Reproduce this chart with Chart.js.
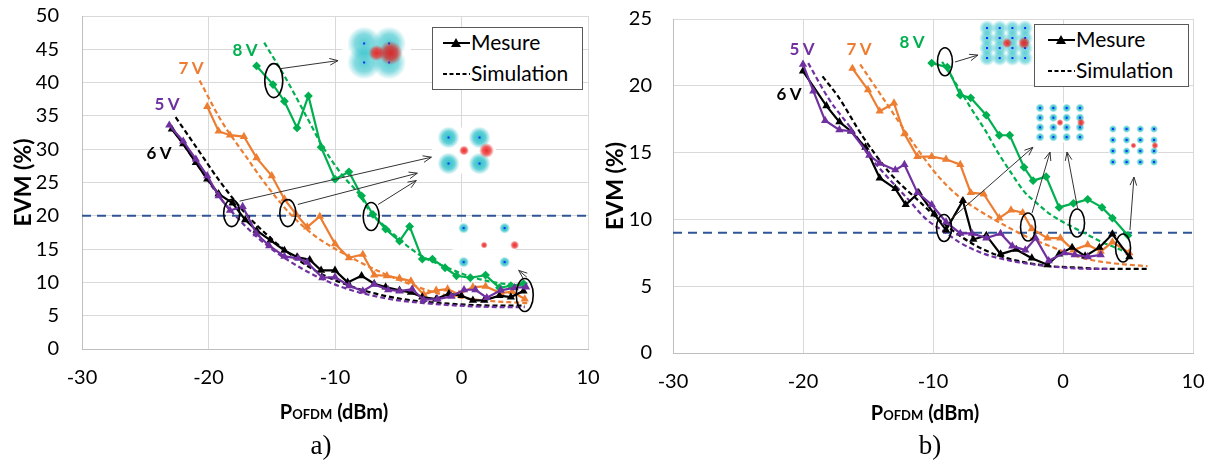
<!DOCTYPE html>
<html><head><meta charset="utf-8">
<script src="https://cdn.jsdelivr.net/npm/chart.js@4.4.1/dist/chart.umd.min.js"></script>
<style>
html,body{margin:0;padding:0;background:#fff;}
body{width:1210px;height:461px;position:relative;overflow:hidden;font-family:Lato,'DejaVu Sans',sans-serif;}
.wrap{position:absolute;top:0;height:422px;}
#wa{left:0;width:600px;} #wb{left:600px;width:610px;}
.lbl{position:absolute;font-weight:bold;font-size:17px;line-height:20px;white-space:nowrap;transform:translate(-50%,-50%);}
.xt{position:absolute;font-weight:bold;font-size:20px;line-height:24px;white-space:nowrap;transform:translate(-50%,-50%);color:#000}
.xt small{font-size:13px;}
.cap{position:absolute;font-family:'Liberation Serif','Times New Roman',serif;font-size:27px;line-height:30px;transform:translate(-50%,-50%);}
.leg{position:absolute;border:1px solid #595959;background:#fff;box-sizing:border-box;}
.leg span{position:absolute;font-size:21px;line-height:25px;white-space:nowrap;}
.leg svg{position:absolute;left:0;top:0;}
</style></head>
<body>
<div class="wrap" id="wa"><canvas id="ca"></canvas></div>
<div class="wrap" id="wb"><canvas id="cb"></canvas></div>

<div class="lbl" style="left:245px;top:50px;color:#00b050">8 V</div>
<div class="lbl" style="left:191px;top:68px;color:#ed7d31">7 V</div>
<div class="lbl" style="left:167px;top:104px;color:#7030a0">5 V</div>
<div class="lbl" style="left:159px;top:153px;color:#000">6 V</div>
<div class="lbl" style="left:802px;top:49px;color:#7030a0">5 V</div>
<div class="lbl" style="left:859px;top:49px;color:#ed7d31">7 V</div>
<div class="lbl" style="left:912px;top:42px;color:#00b050">8 V</div>
<div class="lbl" style="left:789px;top:94px;color:#000">6 V</div>

<div class="leg" style="left:432px;top:27px;width:151px;height:63px;">
 <svg width="150" height="62"><line x1="10" y1="15" x2="37" y2="15" stroke="#000" stroke-width="2"/><polygon points="23,10 28,19 18,19" fill="#000"/><line x1="10" y1="46" x2="37" y2="46" stroke="#000" stroke-width="2" stroke-dasharray="4,2.5"/></svg>
 <span style="left:38px;top:1px;">Mesure</span><span style="left:38px;top:32px;">Simulation</span>
</div>
<div class="leg" style="left:1034px;top:24px;width:155px;height:63px;">
 <svg width="154" height="62"><line x1="13" y1="15" x2="40" y2="15" stroke="#000" stroke-width="2"/><polygon points="26,10 31,19 21,19" fill="#000"/><line x1="13" y1="46" x2="40" y2="46" stroke="#000" stroke-width="2" stroke-dasharray="4,2.5"/></svg>
 <span style="left:41px;top:1px;">Mesure</span><span style="left:41px;top:32px;">Simulation</span>
</div>

<div class="xt" style="left:334px;top:412px;">P<small>OFDM</small> (dBm)</div>
<div class="xt" style="left:925px;top:413px;">P<small>OFDM</small> (dBm)</div>
<div class="cap" style="left:321px;top:445px;">a)</div>
<div class="cap" style="left:930px;top:445px;">b)</div>

<script>
// ---------- data: chart a ----------
const X_TICKS = [-30, -20, -10, 0, 10];
const A_M5_X = [-23.1,-22,-21,-20.1,-19.2,-18.3,-17.3,-16.2,-15.2,-14,-12.9,-12.2,-11,-10,-8.9,-7.8,-6.9,-5.8,-4.9,-3.9,-3,-1.9,-0.8,0.2,1.1,2,3.1,4.2,5.1];
const A_M5_Y = [33.6,31.2,28.5,26,23,20.8,21.4,17.3,15.5,13.9,13.6,13,10.7,10.8,9.5,8.7,9.7,8.9,8.7,9.0,7.4,7.5,7.9,8.9,8.9,7.7,8.8,9.2,9.3];
const A_M6_X = [-22.9,-22,-21,-20.1,-19.2,-18.1,-17.1,-16.2,-15.1,-14,-13,-12,-11.1,-10,-9,-7.9,-6.9,-6,-4.9,-4,-3.1,-2,-1,0,0.9,1.8,3,3.9,4.9];
const A_M6_Y = [33,30.8,28,25.5,23.3,21.9,19.4,17.8,16.3,14.8,13.8,13.4,11.8,11.8,10,11,9.8,9.3,8.8,8.5,7.8,7.5,8.3,8,7.3,7.3,8,7.8,8.7];
const A_M7_X = [-20.1,-19.2,-18.3,-17.2,-16.2,-15,-14,-13.1,-12.2,-11.2,-10,-8.9,-7.8,-6.9,-5.9,-4.9,-4,-3,-2,-1.1,-0.2,0.9,1.9,3.1,4,5];
const A_M7_Y = [36.4,32.7,32.1,31.9,28.7,26,22.5,20.3,18.3,19.9,15.8,13.7,14.2,11.1,11,10.6,10.2,8.2,8.8,9,8.2,9.3,9.4,8.4,8.6,7.5];
const A_M8_X = [-16.2,-14.9,-14,-13,-12.1,-11.1,-10,-8.9,-7.9,-7,-6,-4.9,-4.1,-3.1,-2.3,-1.3,-0.4,0.7,1.9,3,3.9,4.9];
const A_M8_Y = [42.5,39.7,37.2,33.2,38,30.3,25.5,26.6,23,20.2,18,16.2,18.4,13.5,13.5,12.2,11,10.7,11.1,9.2,9.5,9.8];
const A_S5_X = [-23,-21,-19,-17,-15,-13,-11,-9,-7,-5,-3,-1,1,3,5];
const A_S5_Y = [33.5,28,22.5,18.3,15,12.5,10.5,9,8,7.3,6.9,6.6,6.4,6.3,6.3];
const A_S6_X = [-22.6,-21,-19,-17,-15,-13,-11,-9,-7,-5,-3,-1,1,3,5];
const A_S6_Y = [34.8,30.4,24.9,20.2,16.5,13.5,11.2,9.6,8.4,7.6,7.1,6.8,6.6,6.5,6.5];
const A_S7_X = [-20.7,-19,-17,-15.5,-13.5,-12,-11,-8.5,-6,-4,-2,0,2,4,5.2];
const A_S7_Y = [40.3,34.3,28.8,24.8,20.2,17.6,16.2,13.5,11.2,9.7,8.4,7.7,7.25,7.0,6.9];
const A_S8_X = [-15.6,-14,-12,-11.1,-9.5,-8,-7.2,-5.8,-4.5,-3.2,-1.1,0.5,2.6,4.9];
const A_S8_Y = [46,41,34,30.8,26.3,23,20.5,18,15.8,14,12.2,11,10,9.5];
const A_LIMIT = 20;

// ---------- data: chart b ----------
const B_M5_X = [-20,-19.2,-18.3,-17.2,-16.3,-14.9,-14.1,-12.9,-12.2,-11.2,-10.1,-9,-7.9,-7,-5.9,-4.8,-3.9,-2.9,-2.1,-1.1,0.1,0.9,1.9,2.9];
const B_M5_Y = [21.6,19.6,17.4,16.7,16.6,14.8,14.2,13.7,14.1,12,11.1,9.8,8.95,8.95,8.6,8.95,8,7.7,8.6,6.9,7.5,7.35,7.2,7.35];
const B_M6_X = [-20,-18.2,-17.2,-16.3,-15.2,-14.1,-12.9,-12.1,-11.1,-9.9,-9,-7.7,-6.9,-5.9,-4.8,-3.6,-2.4,-1.2,-0.3,0.7,1.7,2.8,3.8,5.1];
const B_M6_Y = [21.1,18.5,17.3,16.6,15.4,13.1,12.3,11.1,12,10.4,9.2,11.4,8.5,8.8,7.4,7.75,7.1,6.6,7.4,7.9,7.25,7.9,8.9,7.2];
const B_M7_X = [-16.2,-15,-14.1,-13,-12.2,-11.2,-10.1,-9,-7.9,-7.1,-6.1,-4.9,-4,-3.1,-2.4,-1.2,-0.2,0.8,1.9,2.9,3.8,5.1];
const B_M7_Y = [21.3,19.7,18.1,18.7,16.4,14.7,14.7,14.5,14.1,12,11.9,10.1,10.7,10.5,9.3,8.6,8.6,7.7,8.1,7.6,8.3,7.5];
const B_M8_X = [-10.1,-8.9,-7.9,-7.1,-5.9,-4.9,-4.1,-3,-2.3,-1.3,-0.3,0.8,1.9,3,3.8,5];
const B_M8_Y = [21.7,21.4,19.3,19.1,17.8,16.3,16.3,13.9,12.9,13.2,10.9,11.2,11.5,10.9,10.1,8.8];
const B_S5_X = [-19.6,-18,-16,-15.1,-14,-12,-10.5,-9,-8,-6,-4,-2,0,2,3.5];
const B_S5_Y = [21.7,19,16.4,15,13.7,11.6,10,9,8.3,7.4,6.9,6.6,6.4,6.3,6.3];
const B_S6_X = [-18.5,-17.3,-15.4,-13.3,-11,-9.2,-7,-5,-3,-1,1,3,5,6.5];
const B_S6_Y = [20.7,19.2,16.2,13.45,11.3,9.7,8.2,7.3,6.8,6.5,6.4,6.3,6.3,6.3];
const B_S7_X = [-15.6,-14,-12,-11,-10,-9,-8,-7,-5.3,-3,-1,0.3,2,4,6.5];
const B_S7_Y = [21.6,19.3,16.4,15,13.7,12.6,11.7,11.0,10,8.8,8,7.5,7,6.7,6.5];
const B_S8_X = [-9.3,-8,-7,-6,-5,-4,-3,-2,-1,0,1,2,3,4,5.2];
const B_S8_Y = [21.8,19.8,18.2,16.7,15.0,13.5,12.1,11.2,10.4,9.8,9.3,8.8,8.3,7.9,7.4];
const B_LIMIT = 9;

// ---------- annotations (data coordinates) ----------
const DECOR = {
  ca: {
    ellipses: [[-14.84,40.3,9,17],[-18.17,20.4,8,13.5],[-13.73,20.4,8,13.5],[-7.14,19.9,8,14],[5.0,8.1,8.5,16.5]],
    arrows: [[-14.29,42.1,-9.76,43.3],[-17.54,22.2,-2.38,28.8],[-12.94,21.7,-3.49,26.4],[-6.59,21.7,-3.57,25.3],[5.16,10.8,4.52,11.8]],
    insets: [
      {x:-6.71,y:44.45,w:69,h:51,cols:2,rows:2,dx:25,dy:19,r:17,a:0.7,reds:[[0,0,8],[14,0,12]]},
      {x:0.2,y:29.8,w:64,h:46,cols:2,rows:2,dx:31,dy:26,r:11,a:0.9,reds:[[0,0,5],[22.5,0,7.5]]},
      {x:1.79,y:15.6,w:63,h:46,cols:2,rows:2,dx:41,dy:34,r:5.5,a:0.95,reds:[[0,0,3.5],[30.5,0,4.5]]}
    ]
  },
  cb: {
    ellipses: [[-9.08,21.8,7.5,14],[-9.15,9.36,7.5,13.5],[-2.69,9.43,7.5,14],[1.08,9.73,7.5,14],[4.62,7.86,7.5,14]],
    arrows: [[-8.31,21.78,-6.54,22.3],[-8.69,9.96,-2.31,15.4],[-2.38,10.48,-1.0,15.04],[1.15,10.7,0.31,15.04],[5.15,9.2,5.46,13.17]],
    insets: [
      {x:-4.38,y:23.2,w:51,h:40,cols:4,rows:4,dx:12.7,dy:10,r:8,a:0.65,reds:[[1,0,5],[18,0,6]]},
      {x:-0.23,y:17.25,w:49,h:40,cols:4,rows:4,dx:13.3,dy:9.7,r:4.5,a:0.95,reds:[[0,0,3.5],[21,0,4]]},
      {x:5.42,y:15.53,w:49,h:42,cols:4,rows:4,dx:13.7,dy:11,r:4,a:0.95,reds:[[0,0,3],[21.5,0,3.5]]}
    ]
  }
};

const pts = (xs, ys) => xs.map((x, i) => ({x, y: ys[i]}));

const C_PURPLE = '#7030a0', C_BLACK = '#000000', C_ORANGE = '#ed7d31', C_GREEN = '#00b050', C_BLUE = '#2f5597';

function blob(ctx, x, y, r, rgb, a) {
  const g = ctx.createRadialGradient(x, y, 0, x, y, r);
  g.addColorStop(0, 'rgba(' + rgb + ',' + a + ')');
  g.addColorStop(0.55, 'rgba(' + rgb + ',' + (a * 0.75) + ')');
  g.addColorStop(1, 'rgba(' + rgb + ',0)');
  ctx.fillStyle = g;
  ctx.beginPath(); ctx.arc(x, y, r, 0, Math.PI * 2); ctx.fill();
}

const decorPlugin = {
  id: 'decor',
  afterDatasetsDraw(chart) {
    const d = DECOR[chart.canvas.id]; if (!d) return;
    const ctx = chart.ctx, sx = chart.scales.x, sy = chart.scales.y;
    const X = v => sx.getPixelForValue(v), Y = v => sy.getPixelForValue(v);
    ctx.save();
    d.insets.forEach(s => {
      const cx = X(s.x), cy = Y(s.y);
      ctx.fillStyle = 'rgba(255,255,255,0.92)';
      ctx.fillRect(cx - s.w / 2, cy - s.h / 2, s.w, s.h);
      for (let i = 0; i < s.cols; i++) for (let j = 0; j < s.rows; j++) {
        const bx = cx + (i - (s.cols - 1) / 2) * s.dx, by = cy + (j - (s.rows - 1) / 2) * s.dy;
        blob(ctx, bx, by, s.r, '20,185,195', s.a);
        ctx.fillStyle = '#1030ff'; ctx.fillRect(bx - 1, by - 1, 2, 2);
      }
      s.reds.forEach(o => blob(ctx, cx + o[0], cy + o[1], o[2], '235,20,20', 0.9));
    });
    ctx.strokeStyle = '#000'; ctx.lineWidth = 1.6;
    d.ellipses.forEach(e => { ctx.beginPath(); ctx.ellipse(X(e[0]), Y(e[1]), e[2], e[3], 0, 0, Math.PI * 2); ctx.stroke(); });
    ctx.strokeStyle = '#333'; ctx.lineWidth = 1;
    d.arrows.forEach(a => {
      const x1 = X(a[0]), y1 = Y(a[1]), x2 = X(a[2]), y2 = Y(a[3]);
      const ang = Math.atan2(y2 - y1, x2 - x1), L = 9, w = 0.38;
      ctx.beginPath(); ctx.moveTo(x1, y1); ctx.lineTo(x2, y2);
      ctx.moveTo(x2 - L * Math.cos(ang - w), y2 - L * Math.sin(ang - w));
      ctx.lineTo(x2, y2);
      ctx.lineTo(x2 - L * Math.cos(ang + w), y2 - L * Math.sin(ang + w));
      ctx.stroke();
    });
    ctx.restore();
  }
};

Chart.defaults.font.family = "Lato, 'DejaVu Sans', sans-serif";
Chart.defaults.color = '#000';

function meas(xs, ys, color, style) {
  return {data: pts(xs, ys), showLine: true, borderColor: color, backgroundColor: color, borderWidth: 2.2,
    pointStyle: style, pointRadius: style === 'rectRot' ? 4.4 : 4.8, pointBorderWidth: 0, tension: 0};
}
function sim(xs, ys, color) {
  return {data: pts(xs, ys), showLine: true, borderColor: color, backgroundColor: color, borderWidth: 2.2,
    borderDash: [5, 3], pointRadius: 0, cubicInterpolationMode: 'monotone'};
}
function limit(v) {
  return {data: pts([X_TICKS[0], X_TICKS[X_TICKS.length - 1]], [v, v]), showLine: true, borderColor: C_BLUE,
    borderWidth: 2, borderDash: [9, 6], pointRadius: 0};
}

function makeChart(id, sets, yMax, pad, yAxisW, xAxisH, yTickPad, yTitlePad) {
  return new Chart(document.getElementById(id), {
    type: 'scatter',
    data: {datasets: sets},
    options: {
      responsive: true, maintainAspectRatio: false, animation: false,
      layout: {padding: pad},
      plugins: {legend: {display: false}, tooltip: {enabled: false}},
      scales: {
        x: {type: 'linear', min: X_TICKS[0], max: X_TICKS[X_TICKS.length - 1],
          afterBuildTicks: s => { s.ticks = X_TICKS.map(v => ({value: v})); },
          afterFit: s => { s.height = xAxisH; s.paddingLeft = 0; s.paddingRight = 0; },
          grid: {color: '#d9d9d9', drawTicks: false}, border: {color: '#bfbfbf'},
          ticks: {padding: 17, font: {size: 20}, color: '#000'}},
        y: {min: 0, max: yMax,
          afterFit: s => { s.width = yAxisW; s.paddingTop = 0; s.paddingBottom = 0; },
          grid: {color: '#d9d9d9', drawTicks: false}, border: {color: '#bfbfbf'},
          ticks: {stepSize: 5, padding: yTickPad, font: {size: 20}, color: '#000'},
          title: {display: true, text: 'EVM (%)', font: {size: 23, weight: 'bold'}, color: '#000', padding: {top: yTitlePad, bottom: 0}}}
      }
    },
    plugins: [decorPlugin]
  });
}

makeChart('ca', [
  meas(A_M5_X, A_M5_Y, C_PURPLE, 'triangle'),
  meas(A_M6_X, A_M6_Y, C_BLACK, 'triangle'),
  meas(A_M7_X, A_M7_Y, C_ORANGE, 'triangle'),
  meas(A_M8_X, A_M8_Y, C_GREEN, 'rectRot'),
  sim(A_S5_X, A_S5_Y, C_PURPLE),
  sim(A_S6_X, A_S6_Y, C_BLACK),
  sim(A_S7_X, A_S7_Y, C_ORANGE),
  sim(A_S8_X, A_S8_Y, C_GREEN),
  limit(A_LIMIT)
], 50, {left: 0, right: 12, top: 16, bottom: 0}, 82, 73, 23, 10);

makeChart('cb', [
  meas(B_M5_X, B_M5_Y, C_PURPLE, 'triangle'),
  meas(B_M6_X, B_M6_Y, C_BLACK, 'triangle'),
  meas(B_M7_X, B_M7_Y, C_ORANGE, 'triangle'),
  meas(B_M8_X, B_M8_Y, C_GREEN, 'rectRot'),
  sim(B_S5_X, B_S5_Y, C_PURPLE),
  sim(B_S6_X, B_S6_Y, C_BLACK),
  sim(B_S7_X, B_S7_Y, C_ORANGE),
  sim(B_S8_X, B_S8_Y, C_GREEN),
  limit(B_LIMIT)
], 25, {left: 0, right: 17, top: 19, bottom: 0}, 73, 69, 21, 2);
</script>
</body></html>
